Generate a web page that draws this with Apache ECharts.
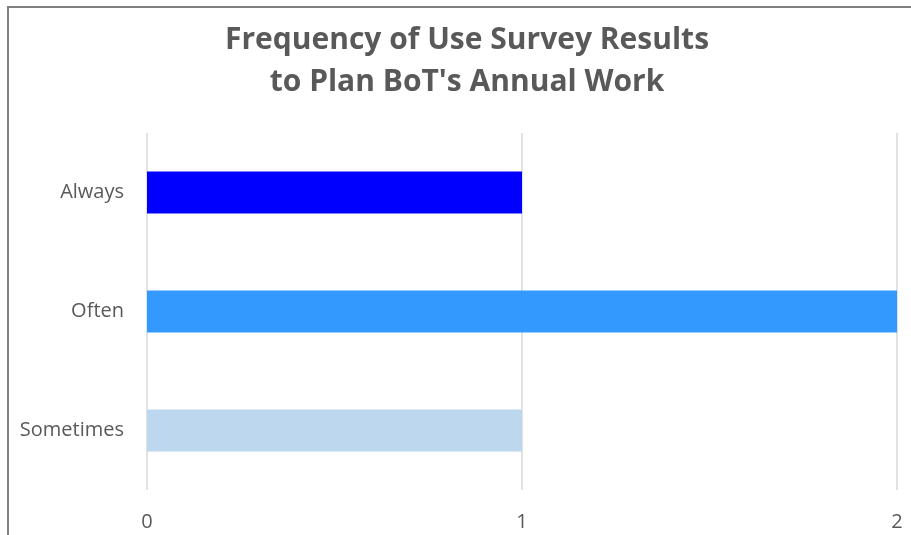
<!DOCTYPE html>
<html>
<head>
<meta charset="utf-8">
<script src="https://cdn.jsdelivr.net/npm/echarts@6/dist/echarts.min.js"></script>
<style>html,body{margin:0;padding:0;background:#fff}#c{width:911px;height:535px}</style>
</head>
<body>
<div id="c"></div>
<script>
const categories = ['Always', 'Often', 'Sometimes'];
const values = [1, 2, 1];
const barColors = ['#0000FF', '#3399FF', '#BDD7EE'];
const xTicks = [0, 1, 2];
const titleLines = ['Frequency of Use Survey Results', "to Plan BoT's Annual Work"];

const chart = echarts.init(document.getElementById('c'));
chart.setOption({
  animation: false,
  title: {
    text: titleLines.join('\n'),
    left: 462, top: 14, textAlign: 'center',
    textStyle: { fontFamily: 'Open Sans', fontWeight: 'bold', fontSize: 30, color: '#595959', lineHeight: 42 }
  },
  graphic: [{
    type: 'rect', shape: { x: 8, y: 7, width: 1000, height: 1000 },
    style: { fill: 'none', stroke: '#808080', lineWidth: 2 }, silent: true
  }],
  grid: { left: 147, right: 14, top: 133, bottom: 45 },
  xAxis: {
    type: 'value', min: xTicks[0], max: xTicks[xTicks.length - 1], interval: 1,
    axisLine: { show: false }, axisTick: { show: false },
    splitLine: { lineStyle: { color: '#D9D9D9', width: 1.5 } },
    axisLabel: { fontFamily: 'Open Sans', fontSize: 20, color: '#595959', margin: 22 }
  },
  yAxis: {
    type: 'category', data: categories, inverse: true,
    axisLine: { show: false }, axisTick: { show: false },
    axisLabel: { fontFamily: 'Open Sans', fontSize: 20, color: '#595959', margin: 23, padding: [5, 0, 0, 0] }
  },
  series: [{
    type: 'bar', barWidth: '35.5%',
    data: values.map((v, i) => ({ value: v, itemStyle: { color: barColors[i] } }))
  }]
});
</script>
</body>
</html>
